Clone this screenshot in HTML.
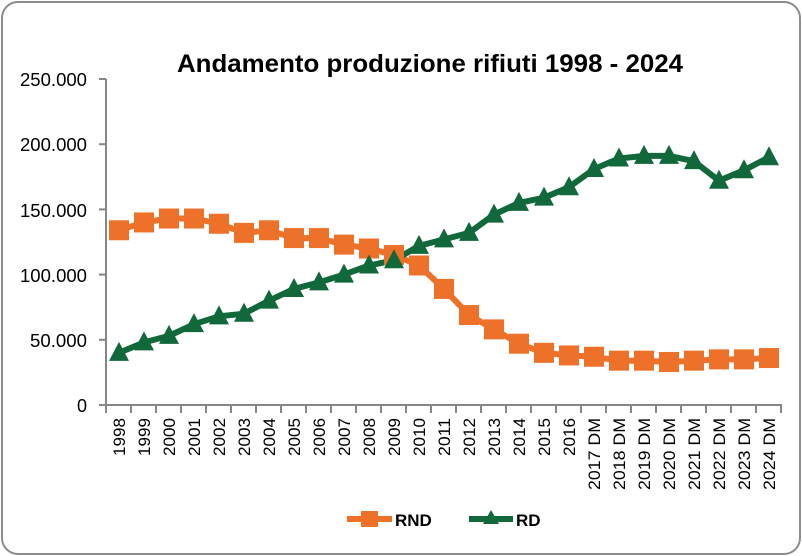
<!DOCTYPE html>
<html><head><meta charset="utf-8"><style>
html,body{margin:0;padding:0;background:#fff}
svg{display:block}
text{font-family:"Liberation Sans",Arial,sans-serif}
</style></head><body>
<svg id="s" width="802" height="556" viewBox="0 0 802 556" xmlns="http://www.w3.org/2000/svg">
<rect x="2" y="2" width="798" height="552" rx="16" fill="#fff" stroke="#8c8c8c" stroke-width="2"/>
<text x="177" y="72" textLength="506" lengthAdjust="spacingAndGlyphs" font-size="25" font-weight="bold" fill="#000">Andamento produzione rifiuti  1998 - 2024</text>
<g font-size="18" fill="#000" text-anchor="end">
<text x="87" y="86" textLength="67" lengthAdjust="spacingAndGlyphs">250.000</text>
<text x="87" y="151" textLength="67" lengthAdjust="spacingAndGlyphs">200.000</text>
<text x="87" y="217" textLength="67" lengthAdjust="spacingAndGlyphs">150.000</text>
<text x="87" y="282" textLength="67" lengthAdjust="spacingAndGlyphs">100.000</text>
<text x="87" y="347" textLength="57" lengthAdjust="spacingAndGlyphs">50.000</text>
<text x="87" y="412">0</text>
</g>
<g id="ax" stroke="#868686" stroke-width="2" fill="none"></g>
<g id="xl" font-size="17" fill="#000"></g>
<g id="ser"></g>
<g>
<line x1="347" y1="519" x2="392" y2="519" stroke="#ED7128" stroke-width="6"/>
<rect x="361" y="511" width="17" height="16" fill="#ED7128"/>
<text x="395" y="526" font-size="17" font-weight="bold">RND</text>
<line x1="469" y1="519" x2="513" y2="519" stroke="#11683A" stroke-width="6"/>
<polygon points="491,510 499,524 483,524" fill="#11683A"/>
<text x="516" y="526" font-size="17" font-weight="bold">RD</text>
</g>
</svg>
<script>
var NS="http://www.w3.org/2000/svg";
function el(t,a,p){var e=document.createElementNS(NS,t);for(var k in a)e.setAttribute(k,a[k]);p.appendChild(e);return e;}
var ax=document.getElementById('ax'),xl=document.getElementById('xl'),ser=document.getElementById('ser');
el('line',{x1:106,y1:79,x2:106,y2:406},ax);
el('line',{x1:99,y1:405,x2:782,y2:405},ax);
for(var i=0;i<6;i++){var y=79+i*65.2;el('line',{x1:99,y1:y,x2:106,y2:y},ax);}
var labs=[];for(var y=1998;y<=2024;y++)labs.push(y>=2017?y+' DM':''+y);
for(var i=0;i<=27;i++){var x=106+i*25;el('line',{x1:x,y1:405,x2:x,y2:413},ax);}
labs.forEach(function(l,i){var x=119+i*25+6;var a={transform:'translate('+x+',418) rotate(-90)','text-anchor':'end'};if(l.length>4){a.textLength=72;a.lengthAdjust='spacingAndGlyphs';}else{a.textLength=38;a.lengthAdjust='spacingAndGlyphs';}var t=el('text',a,xl);t.textContent=l;});
var rnd=[134,140,143,143,139,132,134,128,128,123,120,115,107,89,69,58,47,40,38,37,34,34,33,34,35,35,36];
var rd=[40,48,53,62,68,70,80,89,94,100,107,111,122,127,132,146,155,159,167,181,189,191,191,187,172,180,190];
function Y(v){return 405-v*326/250;}
function line(d,c){var p=d.map(function(v,i){return (119+i*25)+','+Y(v).toFixed(1)}).join(' ');
el('polyline',{points:p,fill:'none',stroke:c,'stroke-width':6,'stroke-linejoin':'round'},ser);}
line(rnd,'#ED7128');line(rd,'#11683A');
rnd.forEach(function(v,i){el('rect',{x:119+i*25-10,y:Y(v)-10,width:20,height:20,fill:'#ED7128'},ser);});
rd.forEach(function(v,i){var x=119+i*25,y=Y(v);el('polygon',{points:x+','+(y-11)+' '+(x+10)+','+(y+8)+' '+(x-10)+','+(y+8),fill:'#11683A'},ser);});
</script>
</body></html>
